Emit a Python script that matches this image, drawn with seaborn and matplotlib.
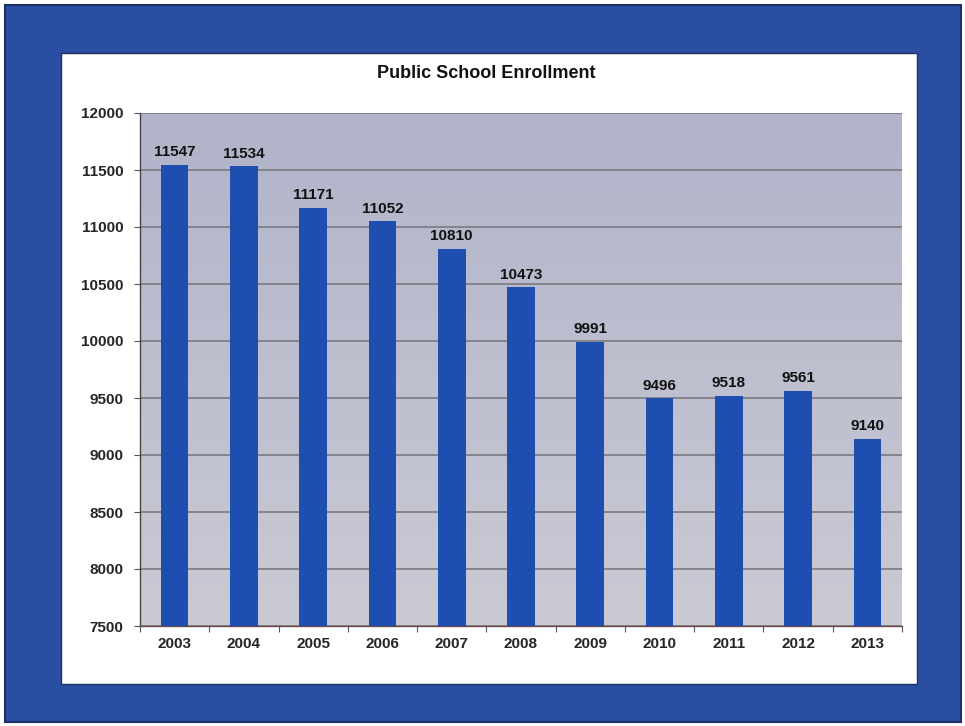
import numpy as np
import pandas as pd
import matplotlib
matplotlib.use("Agg")
import matplotlib.pyplot as plt
from matplotlib.patches import Rectangle
import seaborn as sns

years = ["2003", "2004", "2005", "2006", "2007", "2008", "2009", "2010", "2011", "2012", "2013"]
enrollment = [11547, 11534, 11171, 11052, 10810, 10473, 9991, 9496, 9518, 9561, 9140]
y_ticks = [7500, 8000, 8500, 9000, 9500, 10000, 10500, 11000, 11500, 12000]

df = pd.DataFrame({"year": years, "enrollment": enrollment})

sns.set_style("white")
plt.rcParams["font.family"] = ["Liberation Sans", "DejaVu Sans"]

fig = plt.figure(figsize=(9.65, 7.26), dpi=100)
fig.patch.set_facecolor("white")

# blue outer frame and white inner panel
fig.add_artist(Rectangle((5 / 965, 4 / 726), 956 / 965, 717 / 726, transform=fig.transFigure,
                         facecolor="#2a4ea2", edgecolor="#1c2f66", linewidth=1.5, zorder=0))
fig.add_artist(Rectangle((61 / 965, 42 / 726), 856 / 965, 631 / 726, transform=fig.transFigure,
                         facecolor="white", edgecolor="#1c2f66", linewidth=1.0, zorder=0))

ax = fig.add_axes([140 / 965, 100 / 726, 762 / 965, 513 / 726])

# plot-area background gradient (darker at the top)
grad = np.linspace(0, 1, 256).reshape(-1, 1)
cmap = matplotlib.colors.LinearSegmentedColormap.from_list("bg", ["#cacad4", "#b1b4ca"])
ax.imshow(grad, aspect="auto", cmap=cmap, origin="lower",
          extent=[0, 1, 0, 1], transform=ax.transAxes, zorder=0)

sns.barplot(data=df, x="year", y="enrollment", order=years, color="#1e4fb0",
            saturation=1, width=0.4, ax=ax, zorder=3, edgecolor="none")

ax.set_ylim(7500, 12000)
ax.set_xlim(-0.5, len(years) - 0.5)
ax.set_yticks(y_ticks)
ax.set_yticklabels([str(t) for t in y_ticks], fontsize=11, fontweight="bold")
ax.set_xticklabels(years, fontsize=11, fontweight="bold")
ax.set_xlabel("")
ax.set_ylabel("")

ax.yaxis.grid(True, color="#7a7a80", linewidth=1.2, zorder=1)
for line in ax.get_ygridlines():
    line.set_zorder(1)

ax.tick_params(axis="y", which="major", length=4, width=0.8, color="#555555", pad=8, direction="out", left=True)
ax.tick_params(axis="x", which="major", length=0, pad=8)
ax.set_xticks(np.arange(-0.5, len(years), 1.0), minor=True)
ax.tick_params(axis="x", which="minor", length=4, width=0.8, color="#555555", bottom=True)

for side in ["top", "right"]:
    ax.spines[side].set_visible(False)
ax.spines["left"].set_color("#444444")
ax.spines["left"].set_linewidth(1.0)
ax.spines["bottom"].set_color("#6a4a4a")
ax.spines["bottom"].set_linewidth(1.0)

for i, v in enumerate(enrollment):
    ax.annotate(f"{v}", xy=(i, v), xytext=(0, 4), textcoords="offset points",
                ha="center", va="bottom", fontsize=11, fontweight="bold", color="#111111", zorder=5)

fig.text(486 / 965, 1 - 73 / 726, "Public School Enrollment", ha="center", va="center",
         fontsize=13, fontweight="bold", color="#111111")

fig.savefig("out.png", dpi=100, facecolor="white")
